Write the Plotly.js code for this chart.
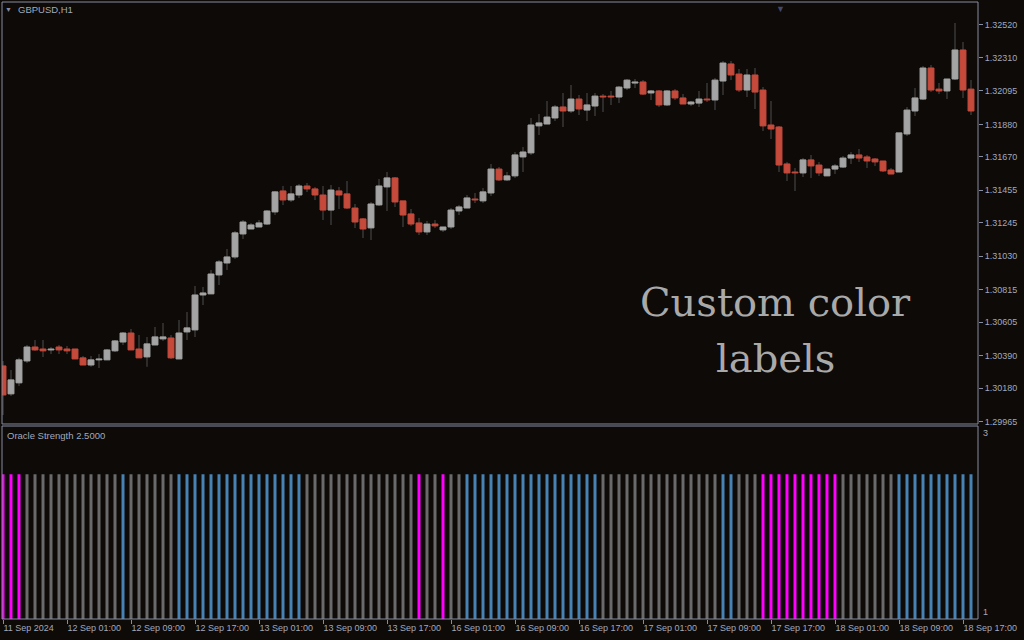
<!DOCTYPE html>
<html><head><meta charset="utf-8">
<script src="https://cdn.plot.ly/plotly-3.0.1.min.js"></script>
<style>html,body{margin:0;padding:0;background:#0d0a08;}#chart{width:1024px;height:640px;}</style>
</head><body><div id="chart"></div>
<script>
// GBPUSD H1 candles (bar index 0 = 11 Sep 2024 17:00)
const openP = [1.30324,1.30144,1.30215,1.30356,1.30446,1.30433,1.30427,1.30446,1.30433,1.30433,
1.30376,1.30330,1.30363,1.30363,1.30421,1.30478,1.30536,1.30433,1.30382,1.30459,
1.30498,1.30504,1.30369,1.30543,1.30556,1.30781,1.30788,1.30910,1.30987,1.31026,
1.31174,1.31206,1.31219,1.31238,1.31316,1.31451,1.31393,1.31425,1.31483,1.31464,
1.31425,1.31328,1.31451,1.31432,1.31341,1.31271,1.31213,1.31361,1.31477,1.31535,
1.31387,1.31303,1.31245,1.31187,1.31238,1.31200,1.31219,1.31322,1.31341,1.31399,
1.31387,1.31438,1.31592,1.31522,1.31548,1.31670,1.31696,1.31870,1.31882,1.31921,
1.31992,1.31966,1.32043,1.31972,1.31998,1.32062,1.32062,1.32056,1.32114,1.32146,
1.32153,1.32082,1.32095,1.32005,1.32095,1.32050,1.32011,1.32017,1.32043,1.32037,
1.32159,1.32269,1.32204,1.32101,1.32198,1.32101,1.31876,1.31863,1.31625,1.31573,
1.31567,1.31651,1.31618,1.31548,1.31592,1.31605,1.31663,1.31683,1.31670,1.31657,
1.31644,1.31586,1.31573,1.31818,1.31966,1.32043,1.32243,1.32107,1.32095,1.32172,
1.32359,1.32107];
const highP = [1.30356,1.30298,1.30376,1.30459,1.30491,1.30491,1.30446,1.30459,1.30453,1.30433,
1.30388,1.30388,1.30401,1.30433,1.30491,1.30543,1.30562,1.30524,1.30511,1.30575,
1.30601,1.30524,1.30620,1.30672,1.30839,1.30833,1.30942,1.31006,1.31077,1.31193,
1.31264,1.31245,1.31264,1.31328,1.31451,1.31483,1.31483,1.31496,1.31502,1.31477,
1.31483,1.31490,1.31477,1.31515,1.31367,1.31277,1.31380,1.31528,1.31573,1.31541,
1.31387,1.31335,1.31277,1.31258,1.31264,1.31219,1.31341,1.31361,1.31425,1.31438,
1.31470,1.31625,1.31605,1.31573,1.31702,1.31734,1.31921,1.31947,1.32030,1.32005,
1.32082,1.32133,1.32069,1.32082,1.32082,1.32075,1.32095,1.32127,1.32172,1.32172,
1.32165,1.32101,1.32101,1.32101,1.32107,1.32075,1.32030,1.32095,1.32146,1.32178,
1.32288,1.32288,1.32236,1.32236,1.32243,1.32120,1.32030,1.31870,1.31638,1.31599,
1.31663,1.31683,1.31638,1.31592,1.31625,1.31676,1.31702,1.31721,1.31683,1.31663,
1.31644,1.31599,1.31825,1.31992,1.32114,1.32256,1.32262,1.32146,1.32172,1.32533,
1.32410,1.32165];
const lowP = [1.30008,1.30131,1.30195,1.30343,1.30421,1.30382,1.30401,1.30401,1.30401,1.30369,
1.30330,1.30318,1.30311,1.30363,1.30414,1.30459,1.30427,1.30376,1.30318,1.30459,
1.30485,1.30369,1.30369,1.30491,1.30511,1.30717,1.30788,1.30846,1.30942,1.31013,
1.31142,1.31206,1.31219,1.31232,1.31296,1.31361,1.31380,1.31406,1.31445,1.31393,
1.31264,1.31232,1.31335,1.31335,1.31213,1.31148,1.31135,1.31354,1.31322,1.31348,
1.31219,1.31226,1.31168,1.31168,1.31213,1.31187,1.31206,1.31296,1.31341,1.31374,
1.31374,1.31419,1.31515,1.31515,1.31535,1.31573,1.31683,1.31812,1.31882,1.31902,
1.31863,1.31953,1.31940,1.31902,1.31934,1.31960,1.32005,1.32017,1.32101,1.32114,
1.32069,1.32037,1.31992,1.31998,1.32037,1.32011,1.31998,1.31992,1.32024,1.31972,
1.32069,1.32165,1.32088,1.32056,1.31979,1.31837,1.31786,1.31573,1.31515,1.31451,
1.31541,1.31535,1.31548,1.31548,1.31560,1.31599,1.31625,1.31638,1.31599,1.31612,
1.31573,1.31560,1.31573,1.31805,1.31934,1.32037,1.32088,1.32075,1.32043,1.32165,
1.32050,1.31940];
const closeP = [1.30137,1.30234,1.30363,1.30446,1.30427,1.30421,1.30433,1.30427,1.30421,1.30369,
1.30330,1.30363,1.30369,1.30427,1.30485,1.30536,1.30427,1.30376,1.30466,1.30511,
1.30511,1.30376,1.30536,1.30569,1.30781,1.30794,1.30916,1.30994,1.31026,1.31181,
1.31251,1.31232,1.31245,1.31322,1.31445,1.31393,1.31432,1.31483,1.31464,1.31425,
1.31328,1.31457,1.31425,1.31341,1.31251,1.31206,1.31367,1.31483,1.31535,1.31380,
1.31296,1.31238,1.31187,1.31238,1.31226,1.31219,1.31328,1.31348,1.31406,1.31393,
1.31445,1.31592,1.31522,1.31548,1.31683,1.31702,1.31876,1.31889,1.31927,1.31992,
1.31966,1.32043,1.31979,1.32005,1.32062,1.32056,1.32056,1.32120,1.32165,1.32153,
1.32075,1.32095,1.32005,1.32095,1.32050,1.32011,1.32024,1.32043,1.32037,1.32165,
1.32275,1.32198,1.32101,1.32198,1.32088,1.31870,1.31850,1.31618,1.31567,1.31567,
1.31651,1.31612,1.31567,1.31592,1.31612,1.31663,1.31683,1.31663,1.31644,1.31638,
1.31580,1.31560,1.31825,1.31972,1.32050,1.32243,1.32101,1.32095,1.32172,1.32359,
1.32101,1.31966];

// Oracle Strength histogram: value and colour state per bar (M = magenta, N = neutral gray, B = blue)
const strength = [2.5,2.5,2.5,2.5,2.5,2.5,2.5,2.5,2.5,2.5,
2.5,2.5,2.5,2.5,2.5,2.5,2.5,2.5,2.5,2.5,
2.5,2.5,2.5,2.5,2.5,2.5,2.5,2.5,2.5,2.5,
2.5,2.5,2.5,2.5,2.5,2.5,2.5,2.5,2.5,2.5,
2.5,2.5,2.5,2.5,2.5,2.5,2.5,2.5,2.5,2.5,
2.5,2.5,2.5,2.5,2.5,2.5,2.5,2.5,2.5,2.5,
2.5,2.5,2.5,2.5,2.5,2.5,2.5,2.5,2.5,2.5,
2.5,2.5,2.5,2.5,2.5,2.5,2.5,2.5,2.5,2.5,
2.5,2.5,2.5,2.5,2.5,2.5,2.5,2.5,2.5,2.5,
2.5,2.5,2.5,2.5,2.5,2.5,2.5,2.5,2.5,2.5,
2.5,2.5,2.5,2.5,2.5,2.5,2.5,2.5,2.5,2.5,
2.5,2.5,2.5,2.5,2.5,2.5,2.5,2.5,2.5,2.5,
2.5,2.5];
const signal = ['M','M','M','N','N','N','N','N','N','N',
'N','N','N','N','N','B','N','N','N','N',
'N','N','B','B','B','B','B','B','B','B',
'B','B','B','B','B','B','B','B','N','N',
'N','N','N','N','N','N','N','N','N','N',
'N','N','M','N','N','M','N','N','B','B',
'B','B','B','B','B','B','B','B','B','B',
'B','B','B','B','B','N','N','N','N','N',
'N','N','N','N','N','N','N','N','N','N',
'B','B','N','N','N','M','M','M','M','M',
'M','M','M','M','M','N','N','N','N','N',
'N','N','B','B','B','B','B','B','B','B',
'B','B'];

const timeLabels = ["11 Sep 2024","12 Sep 01:00","12 Sep 09:00","12 Sep 17:00","13 Sep 01:00","13 Sep 09:00",
"13 Sep 17:00","16 Sep 01:00","16 Sep 09:00","16 Sep 17:00","17 Sep 01:00","17 Sep 09:00",
"17 Sep 17:00","18 Sep 01:00","18 Sep 09:00","18 Sep 17:00"];
const priceTicks = [1.29965,1.30180,1.30390,1.30605,1.30815,1.31030,1.31245,1.31455,1.31670,1.31880,1.32095,1.32310,1.32520];

const BG = '#0d0a08', FRAME = '#878ca0', TXT = '#a2a9bb';
const UP = '#a4a4a4', DN = '#c64a3b', WICK = '#4e4e4e';
const SIGCOL = {M:'#ff00ff', N:'#6a6a6a', B:'#4682b4'};

const idx = openP.map((_, i) => i);
const bodyCol = openP.map((o, i) => closeP[i] >= o ? UP : DN);

const wicks = {type:'bar', x:idx, base:lowP, y:highP.map((h,i)=>h-lowP[i]), width:0.13,
  marker:{color:WICK, line:{width:0}}, xaxis:'x', yaxis:'y', hoverinfo:'skip'};
const bodies = {type:'bar', x:idx, base:openP.map((o,i)=>Math.min(o,closeP[i])),
  y:openP.map((o,i)=>Math.abs(closeP[i]-o)), width:0.74,
  marker:{color:bodyCol, line:{color:bodyCol, width:1}}, xaxis:'x', yaxis:'y', hoverinfo:'skip'};
const hist = {type:'bar', x:idx, y:strength, width:0.375,
  marker:{color:signal.map(s=>SIGCOL[s]), line:{width:0}}, xaxis:'x2', yaxis:'y2', hoverinfo:'skip'};

const xr = [-0.125, 121.875];
const tickIdx = timeLabels.map((_, i) => i * 8);

const layout = {
  width:1024, height:640,
  margin:{l:2, r:46, t:2, b:21},
  paper_bgcolor:BG, plot_bgcolor:BG,
  barmode:'overlay', showlegend:false, hovermode:false,
  font:{family:'Liberation Sans, Arial, sans-serif', size:9, color:TXT},
  xaxis:{range:xr, anchor:'y', showticklabels:false, showgrid:false, zeroline:false, ticks:'', showline:false, fixedrange:true},
  yaxis:{domain:[0.31605,1], range:[1.29950,1.32668], side:'right', anchor:'x',
    tickvals:priceTicks, ticktext:priceTicks.map(v=>v.toFixed(5)),
    ticks:'outside', ticklen:4, tickcolor:FRAME, tickwidth:1, showgrid:false, zeroline:false, showline:false,
    tickfont:{size:9, color:TXT}},
  xaxis2:{range:xr, anchor:'y2', matches:'x', tickvals:tickIdx, ticktext:timeLabels,
    ticks:'outside', ticklen:4, tickcolor:FRAME, tickwidth:1, ticklabelposition:'outside right',
    showgrid:false, zeroline:false, showline:false, tickfont:{size:9, color:TXT}},
  yaxis2:{domain:[0,0.3128], range:[1,3], side:'right', anchor:'x2', showticklabels:false,
    showgrid:false, zeroline:false, ticks:'', showline:false},
  shapes:[
    {type:'rect', xref:'x domain', yref:'y domain', x0:0, x1:1, y0:0, y1:1, line:{color:FRAME, width:1}, fillcolor:'rgba(0,0,0,0)', layer:'above'},
    {type:'rect', xref:'x2 domain', yref:'y2 domain', x0:0, x1:1, y0:0, y1:1, line:{color:FRAME, width:1}, fillcolor:'rgba(0,0,0,0)', layer:'above'}
  ],
  annotations:[
    {xref:'paper', yref:'paper', x:0.0066, y:0.9875, xanchor:'center', yanchor:'middle', text:'▼', showarrow:false, font:{size:7, color:FRAME}},
    {xref:'paper', yref:'paper', x:0.0146, y:0.9875, xanchor:'left', yanchor:'middle', text:'GBPUSD,H1', showarrow:false, font:{size:9.5, color:TXT}},
    {xref:'paper', yref:'paper', x:0.798, y:1.0, xanchor:'center', yanchor:'top', text:'▼', showarrow:false, font:{size:9, color:'#444869'}},
    {xref:'paper', yref:'paper', x:0.793, y:0.5138, xanchor:'center', yanchor:'middle', text:'Custom color', showarrow:false, font:{family:'DejaVu Serif, serif', size:40, color:'#a9a9a9'}},
    {xref:'paper', yref:'paper', x:0.793, y:0.423, xanchor:'center', yanchor:'middle', text:'labels', showarrow:false, font:{family:'DejaVu Serif, serif', size:40, color:'#a9a9a9'}},
    {xref:'paper', yref:'paper', x:0.0032, y:0.298, xanchor:'left', yanchor:'middle', text:'Oracle Strength 2.5000', showarrow:false, font:{size:9.5, color:TXT}},
    {xref:'paper', yref:'y2', x:1, y:3, xanchor:'left', yanchor:'top', xshift:3, text:'3', showarrow:false, font:{size:9, color:TXT}},
    {xref:'paper', yref:'y2', x:1, y:1, xanchor:'left', yanchor:'bottom', xshift:3, text:'1', showarrow:false, font:{size:9, color:TXT}}
  ]
};

Plotly.newPlot('chart', [wicks, bodies, hist], layout, {displayModeBar:false, staticPlot:true});
</script></body></html>
